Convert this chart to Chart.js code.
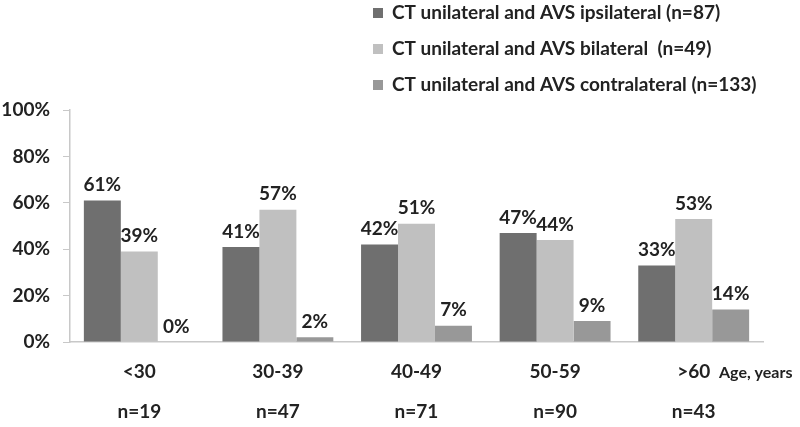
<!DOCTYPE html>
<html>
<head>
<meta charset="utf-8">
<script src="https://cdn.jsdelivr.net/npm/chart.js@4/dist/chart.umd.min.js"></script>
<style>
  html, body { margin: 0; padding: 0; background: #fff; }
  #wrap { width: 800px; height: 427px; }
</style>
</head>
<body>
<div id="wrap"><canvas id="myChart" width="800" height="427"></canvas></div>
<script>
'use strict'

const ageGroups = ['<30', '30-39', '40-49', '50-59', '>60'];
const groupCounts = [19, 47, 71, 90, 43];
const seriesNames = [
  'CT unilateral and AVS ipsilateral (n=87)',
  'CT unilateral and AVS bilateral  (n=49)',
  'CT unilateral and AVS contralateral (n=133)'
];
const ipsilateral = [61, 41, 42, 47, 33];
const bilateral = [39, 57, 51, 44, 53];
const contralateral = [0, 2, 7, 9, 14];
const yTicks = [0, 20, 40, 60, 80, 100];

const barColors = ['#6f6f6f', '#c0c0c0', '#989898'];
const fontName = 'Lato, "Open Sans", sans-serif';

// x labels: age group on first line, group size below
let xLabels = ageGroups.map((g, i) => [g, 'n=' + groupCounts[i]]);

// values above every bar
const barValues = {
  id: 'barValues',
  afterDatasetsDraw(chart) {
    let ctx = chart.ctx;
    ctx.save();
    ctx.font = 'bold 19px ' + fontName;
    ctx.fillStyle = '#222';
    ctx.textAlign = 'center';
    ctx.textBaseline = 'bottom';
    chart.data.datasets.forEach((ds, d) => {
      chart.getDatasetMeta(d).data.forEach((bar, i) => {
        ctx.fillText(ds.data[i] + '%', bar.x, bar.y - 6);
      });
    });
    ctx.restore();
  }
};

// vertical legend in top right + axis caption
const sideText = {
  id: 'sideText',
  afterDraw(chart) {
    let ctx = chart.ctx;
    ctx.save();
    ctx.font = 'bold 19px ' + fontName;
    ctx.textBaseline = 'middle';
    ctx.textAlign = 'left';
    chart.data.datasets.forEach((ds, d) => {
      let y = 13 + d * 36;
      ctx.fillStyle = ds.backgroundColor;
      ctx.fillRect(373, y - 5, 10, 10);
      ctx.fillStyle = '#222';
      ctx.fillText(ds.label, 392, y);
    });
    ctx.font = 'bold 16px ' + fontName;
    ctx.fillText('Age, years', 719, 373);
    ctx.restore();
  }
};

let config = {
  type: 'bar',
  data: {
    labels: xLabels,
    datasets: [
      { label: seriesNames[0], data: ipsilateral, backgroundColor: barColors[0] },
      { label: seriesNames[1], data: bilateral, backgroundColor: barColors[1] },
      { label: seriesNames[2], data: contralateral, backgroundColor: barColors[2] }
    ]
  },
  options: {
    responsive: false,
    animation: false,
    layout: { padding: { top: 110, right: 37, left: 0, bottom: 0 } },
    datasets: { bar: { categoryPercentage: 0.8, barPercentage: 1.0 } },
    plugins: { legend: { display: false }, tooltip: { enabled: false } },
    scales: {
      x: {
        grid: { display: false },
        border: { display: true, color: '#c8c8c8', width: 1.5 },
        ticks: {
          color: '#222',
          padding: 1,
          font: { family: fontName, size: 19, weight: 'bold', lineHeight: 2.15 }
        },
        afterFit(scale) { scale.height = 85; }
      },
      y: {
        min: 0,
        max: 100,
        afterBuildTicks(scale) { scale.ticks = yTicks.map(v => ({ value: v })); },
        grid: { drawOnChartArea: false, drawTicks: true, tickLength: 7, color: '#c8c8c8' },
        border: { display: true, color: '#c8c8c8', width: 1.5 },
        ticks: {
          color: '#222',
          padding: 13,
          font: { family: fontName, size: 19, weight: 'bold' },
          callback: v => v + '%'
        },
        afterFit(scale) { scale.width = 70; }
      }
    }
  },
  plugins: [barValues, sideText]
};

let myChart = new Chart(document.getElementById('myChart'), config);
</script>
</body>
</html>
